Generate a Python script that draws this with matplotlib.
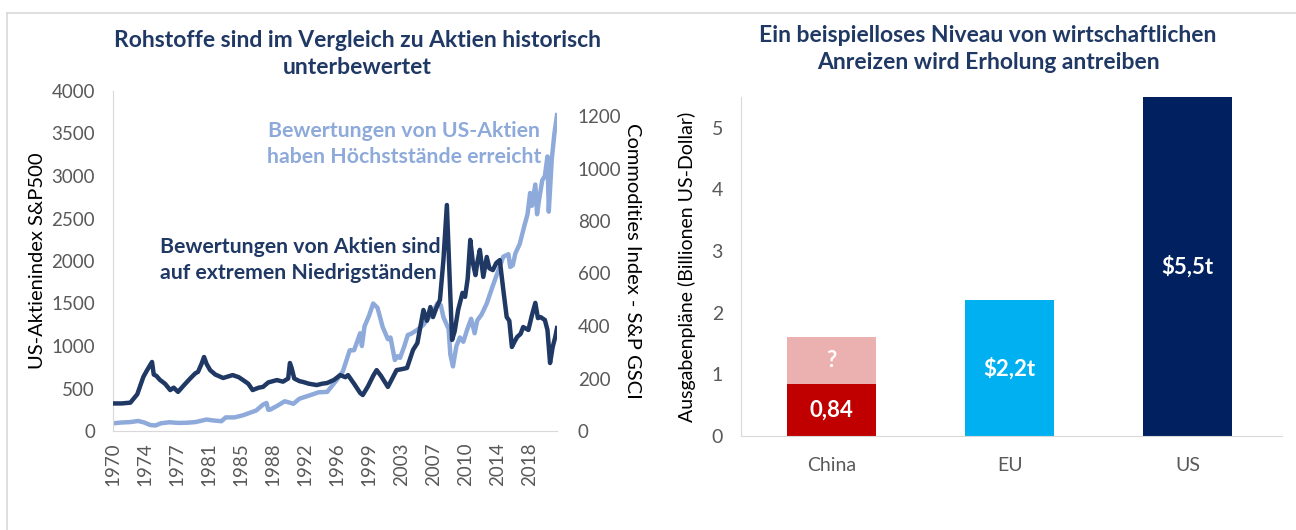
import matplotlib.pyplot as plt
import numpy as np
from matplotlib.lines import Line2D

plt.rcParams['font.family'] = ['Lato', 'DejaVu Sans']

# --- Linkes Diagramm: S&P 500 vs. S&P GSCI ---
spx_years = [1970.0, 1971.0, 1972.0, 1972.9, 1973.6, 1974.3, 1974.9, 1975.5, 1976.5, 1977.5,
             1978.5, 1979.5, 1980.8, 1981.5, 1982.5, 1983.0, 1984.0, 1985.0, 1985.8, 1986.5,
             1987.3, 1987.7, 1987.9, 1988.1, 1989.0, 1989.8, 1990.5, 1990.8, 1991.5, 1992.7,
             1993.7, 1994.7, 1995.8, 1996.5, 1997.3, 1997.8, 1998.5, 1998.7, 1999.0, 1999.5,
             2000.0, 2000.5, 2001.1, 2001.7, 2002.0, 2002.5, 2002.8, 2003.1, 2003.6, 2004.0,
             2004.3, 2005.1, 2005.8, 2006.2, 2006.8, 2007.4, 2007.8, 2008.1, 2008.7, 2008.9,
             2009.2, 2009.6, 2010.0, 2010.4, 2010.8, 2011.3, 2011.7, 2012.0, 2012.5, 2013.1,
             2013.7, 2014.3, 2014.8, 2015.0, 2015.6, 2015.8, 2016.1, 2016.4, 2016.9, 2017.4,
             2017.8, 2018.1, 2018.3, 2018.7, 2018.9, 2019.1, 2019.5, 2019.8, 2020.1, 2020.25,
             2020.6, 2020.9, 2021.2]
spx_values = [90, 100, 105, 118, 100, 70, 65, 90, 103, 95,
              97, 105, 135, 125, 115, 160, 160, 185, 215, 240,
              310, 330, 250, 250, 300, 350, 330, 320, 380, 420,
              455, 460, 600, 700, 950, 950, 1150, 1000, 1230, 1350,
              1500, 1450, 1223, 1080, 1100, 835, 880, 860, 1000, 1130,
              1140, 1190, 1250, 1305, 1380, 1500, 1480, 1340, 1200, 900,
              760, 1000, 1100, 1050, 1180, 1320, 1150, 1300, 1370, 1500,
              1680, 1850, 1990, 2050, 2080, 1930, 1950, 2090, 2200, 2400,
              2550, 2800, 2650, 2900, 2550, 2700, 2950, 3000, 3230, 2580,
              3200, 3500, 3716]

gsci_years = [1970.0, 1971.0, 1972.0, 1972.8, 1973.5, 1973.9, 1974.5, 1974.7, 1975.0, 1975.4,
              1976.0, 1976.6, 1977.0, 1977.5, 1978.2, 1978.9, 1979.5, 1979.8, 1980.2, 1980.5,
              1980.8, 1981.2, 1981.8, 1982.7, 1983.8, 1984.5, 1985.0, 1985.6, 1986.1, 1986.8,
              1987.3, 1987.9, 1988.9, 1989.6, 1990.2, 1990.4, 1990.6, 1990.9, 1991.5, 1991.9,
              1992.6, 1993.5, 1994.1, 1994.7, 1995.5, 1996.2, 1996.8, 1997.1, 1997.8, 1998.5,
              1998.8, 1999.4, 2000.0, 2000.4, 2000.9, 2001.7, 2002.2, 2002.7, 2003.2, 2003.9,
              2004.6, 2005.1, 2005.8, 2006.2, 2006.6, 2006.9, 2007.3, 2007.7, 2008.1, 2008.5,
              2008.8, 2009.1, 2009.4, 2009.8, 2010.3, 2010.6, 2010.9, 2011.2, 2011.5, 2011.8,
              2012.0, 2012.3, 2012.7, 2013.1, 2013.4, 2013.8, 2014.2, 2014.6, 2015.0, 2015.4,
              2015.7, 2016.0, 2016.3, 2016.6, 2017.0, 2017.3, 2017.9, 2018.3, 2018.7, 2019.0,
              2019.3, 2019.8, 2020.1, 2020.4, 2020.7, 2021.0, 2021.2]
gsci_values = [105, 105, 108, 140, 206, 230, 263, 215, 210, 195,
               180, 156, 165, 149, 175, 200, 220, 225, 255, 282,
               255, 232, 215, 202, 213, 205, 194, 180, 156, 165,
               168, 185, 194, 188, 200, 259, 240, 200, 190, 187,
               180, 175, 180, 183, 195, 213, 205, 213, 180, 145,
               137, 170, 210, 232, 210, 168, 200, 232, 235, 240,
               309, 335, 461, 420, 472, 434, 470, 499, 650, 861,
               600, 347, 380, 461, 526, 511, 580, 728, 640, 594,
               640, 690, 587, 663, 620, 613, 640, 651, 540, 434,
               420, 320, 340, 358, 370, 396, 385, 440, 488, 430,
               434, 423, 385, 259, 320, 358, 392]

year_labels = ['1970', '1974', '1977', '1981', '1985', '1988', '1992',
               '1996', '1999', '2003', '2007', '2010', '2014', '2018']

# --- Rechtes Diagramm: Konjunkturpakete ---
regions = ['China', 'EU', 'US']
stimulus_known = [0.84, 2.2, 5.5]
stimulus_unknown = [0.76, 0, 0]
bar_labels = ['0,84', '$2,2t', '$5,5t']

navy = '#1f3864'
light = '#8eaadb'
grey = '#595959'
spine_col = '#d9d9d9'

fig = plt.figure(figsize=(12.96, 5.30), dpi=100)

# Rahmen
fig.add_artist(Line2D([7/1296, 1], [1 - 13/530, 1 - 13/530], color=spine_col, lw=1.2))
fig.add_artist(Line2D([7/1296, 7/1296], [0, 1 - 13/530], color=spine_col, lw=1.2))

ax = fig.add_axes([113/1296, 1 - 431/530, 444/1296, 340/530])
ax2 = ax.twinx()

ax.plot(spx_years, spx_values, color=light, lw=3.2, solid_joinstyle='round')
ax2.plot(gsci_years, gsci_values, color=navy, lw=3.2, solid_joinstyle='round')

ax.set_xlim(1970, 2021.2)
ax.set_ylim(0, 4000)
ax.set_yticks(np.arange(0, 4001, 500))
ax2.set_ylim(0, 1200 * 340 / 315)
ax2.set_yticks(np.arange(0, 1201, 200))
ax.set_xticks(np.linspace(1970, 2018, len(year_labels)))
ax.set_xticklabels(year_labels, rotation=90)

for a in (ax, ax2):
    a.tick_params(length=0, labelsize=13.5, labelcolor=grey)
    for s in ('top', 'right'):
        a.spines[s].set_visible(False)
    a.spines['left'].set_color(spine_col)
    a.spines['bottom'].set_color(spine_col)
ax2.spines['left'].set_visible(False)
ax2.spines['bottom'].set_visible(False)
ax.tick_params(axis='y', pad=13)
ax.tick_params(axis='x', pad=8)
ax2.tick_params(axis='y', pad=15)

ax.set_ylabel('US-Aktienindex S&P500', fontsize=14.5, color='black')
ax.yaxis.set_label_coords(-0.15, 0.5)
ax2.set_ylabel('Commodities Index - S&P GSCI', fontsize=14.5, color='black', rotation=-90)
ax2.yaxis.set_label_coords(1.19, 0.5)

ax.text(0.655, 0.844, 'Bewertungen von US-Aktien\nhaben Höchststände erreicht',
        transform=ax.transAxes, ha='center', va='center', color=light,
        fontsize=15.3, fontweight='bold', linespacing=1.4)
ax.text(0.106, 0.503, 'Bewertungen von Aktien sind\nauf extremen Niedrigständen',
        transform=ax.transAxes, ha='left', va='center', color=navy,
        fontsize=15.3, fontweight='bold', linespacing=1.4)

fig.text(357/1296, 1 - 54/530, 'Rohstoffe sind im Vergleich zu Aktien historisch\nunterbewertet',
         ha='center', va='center', color=navy, fontsize=16.5, fontweight='bold',
         linespacing=1.3)

# rechts
bx = fig.add_axes([741/1296, 1 - 436/530, 541/1296, 339/530])
pos = np.arange(len(regions))
bx.bar(pos, stimulus_known, width=0.5, color=['#c00000', '#00b0f0', '#002060'])
bx.bar(pos, stimulus_unknown, width=0.5, bottom=stimulus_known, color='#ebb1b1')
for p, v, lab in zip(pos, stimulus_known, bar_labels):
    bx.text(p, v / 2, lab, ha='center', va='center', color='white',
            fontsize=16, fontweight='bold')
bx.text(pos[0], stimulus_known[0] + stimulus_unknown[0] / 2, '?', ha='center',
        va='center', color='white', fontsize=16, fontweight='bold')

bx.set_xlim(-0.51, 2.53)
bx.set_ylim(0, 5.5)
bx.set_yticks(range(0, 6))
bx.set_xticks(pos)
bx.set_xticklabels(regions)
bx.tick_params(length=0, labelsize=14, labelcolor=grey)
bx.tick_params(axis='y', pad=13)
bx.tick_params(axis='x', pad=15)
for s in ('top', 'right'):
    bx.spines[s].set_visible(False)
bx.spines['left'].set_color(spine_col)
bx.spines['bottom'].set_color(spine_col)
bx.set_ylabel('Ausgabenpläne (Billionen US-Dollar)', fontsize=14, color='black')
bx.yaxis.set_label_coords(-0.083, 0.5)

fig.text(988/1296, 1 - 49/530, 'Ein beispielloses Niveau von wirtschaftlichen\nAnreizen wird Erholung antreiben',
         ha='center', va='center', color=navy, fontsize=16.5, fontweight='bold',
         linespacing=1.3)

fig.savefig('out.png', dpi=100)
